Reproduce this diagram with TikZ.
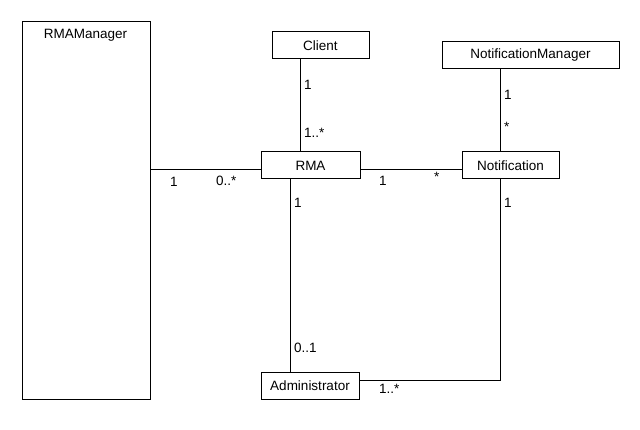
\documentclass[tikz,border=0pt]{standalone}
\usepackage{fontspec}
\setmainfont{Liberation Sans}
\begin{document}
\begin{tikzpicture}[x=1pt,y=-1pt,
  cls/.style={draw=black, line width=1pt, fill=white, inner sep=0pt, font=\fontsize{13.5}{16}\selectfont},
  lbl/.style={inner sep=0pt, anchor=west, font=\fontsize{13.5}{16}\selectfont},
  conn/.style={draw=black, line width=1pt}]
\useasboundingbox (0,0) rectangle (640,430);
% classes
\node[cls, minimum width=128pt, minimum height=378pt, anchor=north west] (mgr) at (21.5,21.3) {};
\node[inner sep=0pt, font=\fontsize{13.5}{16}\selectfont] (mgrname) at (85.5,35) {RMAManager};
\node[cls, minimum width=97pt, minimum height=27pt] (client) at (320.5,45.5) {Client};
\node[cls, minimum width=177pt, minimum height=27pt] (nm) at (530.5,55.5) {NotificationManager};
\node[cls, minimum width=99pt, minimum height=27pt] (rma) at (310.5,165.5) {RMA};
\node[cls, minimum width=97pt, minimum height=27pt] (notif) at (510.5,165.5) {Notification};
\node[cls, minimum width=98pt, minimum height=27pt] (admin) at (310,385.5) {Administrator};
% connectors
\draw[conn] (mgr.east |- 0,170) -- (rma.west |- 0,170);
\draw[conn] ([xshift=-20pt]client.south) -- ([xshift=-20pt]client.south |- rma.north);
\draw[conn] (rma.east |- 0,170) -- (notif.west |- 0,170);
\draw[conn] ([xshift=-30pt]nm.south) -- ([xshift=-30pt]nm.south |- notif.north);
\draw[conn] ([xshift=-20pt]rma.south) -- ([xshift=-20pt]rma.south |- admin.north);
\coordinate (corner) at ([xshift=-10pt]notif.south |- 0,380);
\draw[conn] ([xshift=-10pt]notif.south) -- (corner) -- (admin.east |- corner);
% multiplicities
\node[lbl] (m1) at (304,85) {1};
\node[lbl] (m2) at (304,133) {1..*};
\node[lbl] (m3) at (170,182) {1};
\node[lbl] (m4) at (216,181) {0..*};
\node[lbl] (m5) at (294,203) {1};
\node[lbl] (m6) at (294,348) {0..1};
\node[lbl] (m7) at (379,181) {1};
\node[lbl] (m8) at (434,177) {*};
\node[lbl] (m9) at (504,95) {1};
\node[lbl] (m10) at (504,127) {*};
\node[lbl] (m11) at (504,203) {1};
\node[lbl] (m12) at (379,389) {1..*};
\end{tikzpicture}
\end{document}
